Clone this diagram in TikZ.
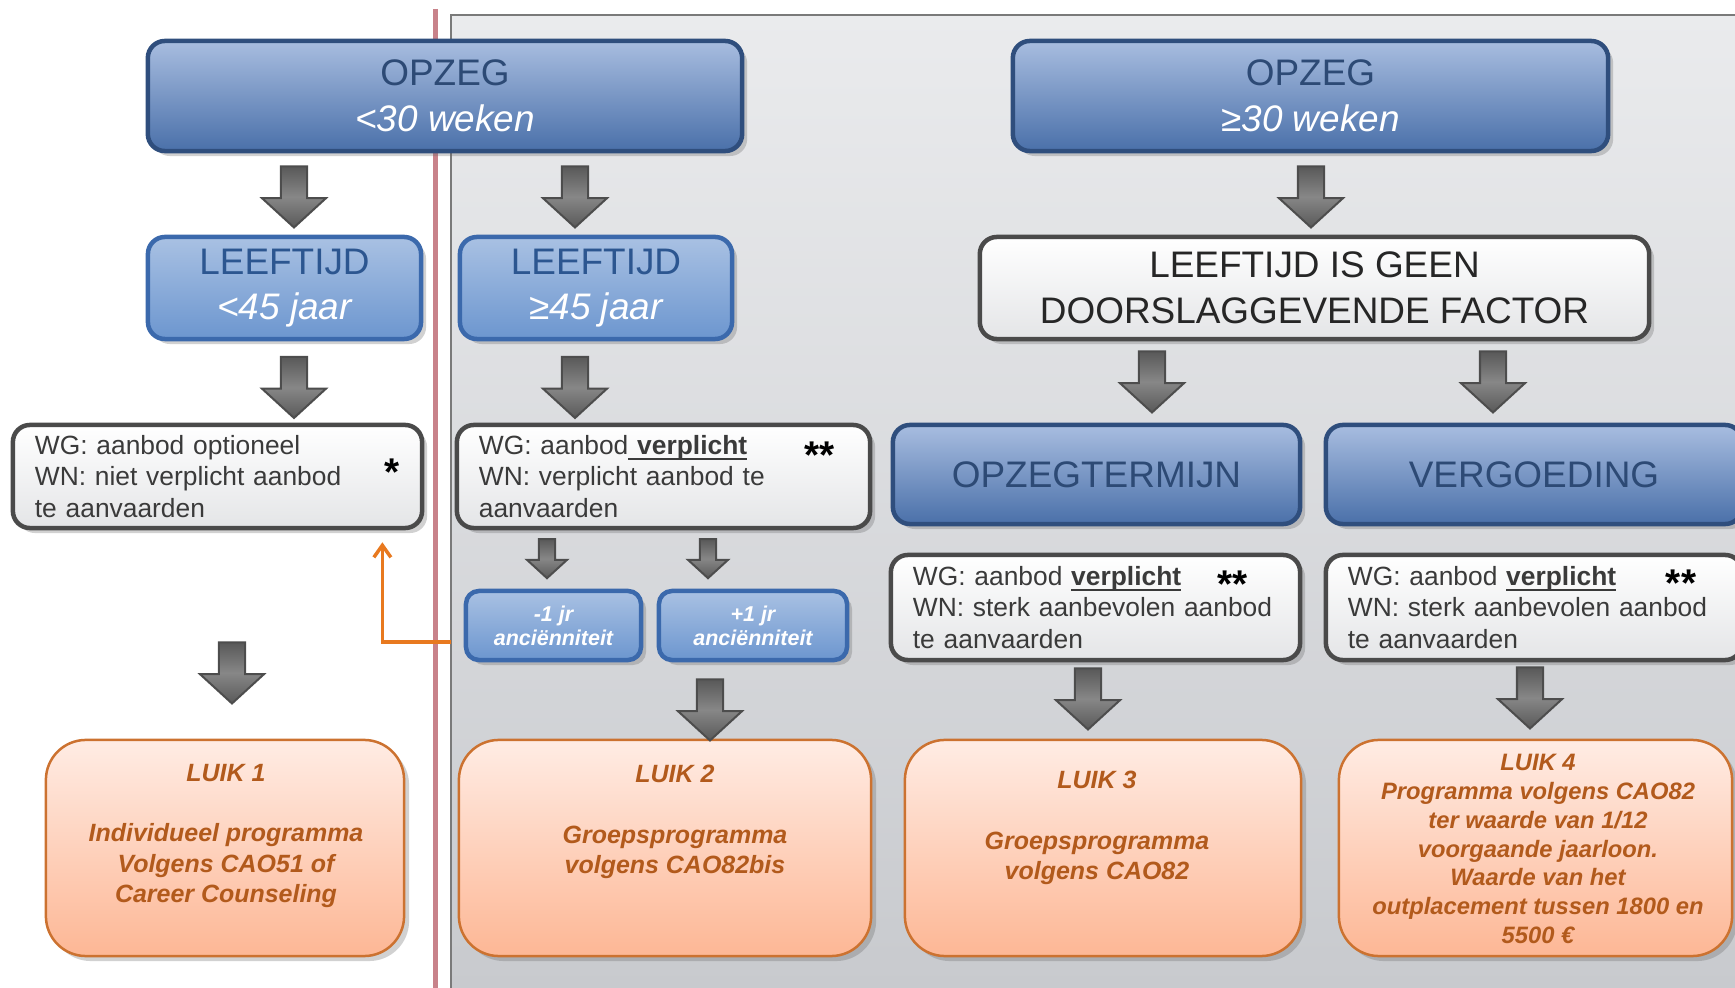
\documentclass[tikz,border=0pt]{standalone}
\usepackage{fontspec}
\setmainfont{Liberation Sans}
\usetikzlibrary{shapes.arrows}
\usetikzlibrary{shadows}
\usetikzlibrary{calc}
\usetikzlibrary{arrows.meta}
\definecolor{donkerboven}{HTML}{A8BDE0}
\definecolor{donkeronder}{HTML}{4A70A9}
\definecolor{donkerrand}{HTML}{2F4E7D}
\definecolor{donkertekst}{HTML}{2D4A75}
\definecolor{lichtboven}{HTML}{A9C1E3}
\definecolor{lichtonder}{HTML}{6C96CF}
\definecolor{lichtrand}{HTML}{3B69AC}
\definecolor{lichttekst}{HTML}{2C5690}
\definecolor{witonder}{HTML}{E4E5E7}
\definecolor{witrand}{HTML}{4A4A4A}
\definecolor{wittekst}{HTML}{3A3A3A}
\definecolor{luikboven}{HTML}{FFECE4}
\definecolor{luikonder}{HTML}{FDB795}
\definecolor{luikrand}{HTML}{CC7230}
\definecolor{luiktekst}{HTML}{B25A1C}
\definecolor{pijlrand}{HTML}{4D4D4D}
\definecolor{pijldonker}{HTML}{595959}
\definecolor{pijllicht}{HTML}{878787}
\definecolor{paneelboven}{HTML}{EAEBED}
\definecolor{paneelonder}{HTML}{C8CACE}
\definecolor{paneelrand}{HTML}{7A7A7A}
\definecolor{roze}{HTML}{C8828A}
\definecolor{oranje}{HTML}{E8791F}
\newcommand{\onderlijn}[1]{\setbox0=\hbox{#1}\rlap{\rule[-1.7pt]{\wd0}{0.6pt}}\box0}
\tikzset{schaduw/.style={drop shadow={shadow xshift=0.05cm,shadow yshift=-0.05cm,fill=black!60,opacity=0.3}},
 blokdonker/.style={draw=donkerrand,line width=0.045cm,rounded corners=0.17cm,
  top color=donkerboven,bottom color=donkeronder,schaduw,align=center,inner sep=0pt,
  font=\fontsize{10.5}{13}\selectfont,text=donkertekst},
 bloklicht/.style={draw=lichtrand,line width=0.045cm,rounded corners=0.17cm,
  top color=lichtboven,bottom color=lichtonder,schaduw,align=center,inner sep=0pt,
  font=\fontsize{10.5}{13}\selectfont,text=lichttekst},
 ancblok/.style={bloklicht,rounded corners=0.13cm,minimum height=0.69cm,
  font=\fontsize{6.1}{6.8}\selectfont\bfseries\itshape,text=white},
 witblok/.style={draw=witrand,line width=0.045cm,rounded corners=0.17cm,
  top color=white,middle color=white,bottom color=witonder,schaduw,align=left,
  inner xsep=0.22cm,inner ysep=0pt,font=\fontsize{7.5}{9}\selectfont,text=wittekst},
 luikblok/.style={draw=luikrand,line width=0.025cm,rounded corners=0.4cm,
  top color=luikboven,bottom color=luikonder,schaduw,minimum height=2.16cm},
 luiktxt/.style={align=center,text=luiktekst,font=\fontsize{7.1}{8.6}\selectfont\bfseries\itshape},
 ster/.style={font=\fontsize{11}{11}\selectfont\bfseries,inner sep=0pt},
 pijl/.style={single arrow,draw=pijlrand,line width=0.02cm,top color=pijldonker,
  bottom color=pijldonker,middle color=pijllicht,rotate=-90,inner xsep=0pt,
  inner ysep=0.12cm,minimum height=0.61cm,minimum width=0.62cm,
  single arrow head extend=0.19cm,single arrow tip angle=95},
 pijlklein/.style={pijl,inner ysep=0.07cm,minimum height=0.39cm,minimum width=0.38cm,
  single arrow head extend=0.12cm},
 oranjepijl/.style={draw=oranje,line width=0.035cm,-{Straight Barb[length=0.12cm,width=0.17cm]}},
}
\begin{document}
\begin{tikzpicture}[x=0.01cm,y=-0.01cm]
\useasboundingbox (0,0) rectangle (1735,988);
% achtergrond
\fill[top color=paneelboven,bottom color=paneelonder] (451,15) rectangle (1740,990);
\draw[paneelrand,line width=0.02cm] (451,990) -- (451,15) -- (1740,15);
\draw[roze,line width=0.05cm] (435,9) -- (435,990);

% opzeg
\node[blokdonker,minimum width=5.94cm,minimum height=1.10cm] (opzegkort) at (445,96)
 {OPZEG\\\textcolor{white}{\itshape <30 weken}};
\node[blokdonker,minimum width=5.95cm,minimum height=1.10cm] (opzeglang) at (1310.5,96)
 {OPZEG\\\textcolor{white}{\itshape ≥30 weken}};

% leeftijd
\node[bloklicht,minimum width=2.73cm,minimum height=1.02cm] (leefjong) at (284.5,288)
 {LEEFTIJD\\\textcolor{white}{\itshape <45 jaar}};
\node[bloklicht,minimum width=2.72cm,minimum height=1.02cm] (leefoud) at (596,288)
 {LEEFTIJD\\\textcolor{white}{\itshape ≥45 jaar}};
\node[witblok,align=center,inner xsep=0pt,minimum width=6.69cm,minimum height=1.02cm,
 font=\fontsize{10.5}{13}\selectfont,text=black!85] (geenfactor) at (1314.5,288)
 {LEEFTIJD IS GEEN\\DOORSLAGGEVENDE FACTOR};

% aanbod
\node[witblok,text width=3.65cm,minimum height=1.03cm] (wgjong) at (217.5,476.5)
 {WG: aanbod optioneel\\WN: niet verplicht aanbod\\te aanvaarden};
\node[witblok,text width=3.69cm,minimum height=1.03cm] (wgoud) at (663.5,476.5)
 {WG: aanbod\onderlijn{ \textbf{verplicht}}\\WN: verplicht aanbod te\\aanvaarden};
\node[blokdonker,minimum width=4.07cm,minimum height=0.99cm] (termijn) at (1096.5,474.5) {OPZEGTERMIJN};
\node[blokdonker,minimum width=4.16cm,minimum height=0.99cm] (vergoeding) at (1534,474.5) {VERGOEDING};
\node[witblok,text width=3.65cm,minimum height=1.05cm] (wgtermijn) at (1095.5,607.5)
 {WG: aanbod \onderlijn{\textbf{verplicht}}\\WN: sterk aanbevolen aanbod\\te aanvaarden};
\node[witblok,text width=3.72cm,minimum height=1.05cm] (wgvergoeding) at (1534,607.5)
 {WG: aanbod \onderlijn{\textbf{verplicht}}\\WN: sterk aanbevolen aanbod\\te aanvaarden};
\node[ster] (sterjong) at (392,472) {*};
\node[ster] (steroud) at (820,455) {**};
\node[ster] (stertermijn) at (1233,584) {**};
\node[ster] (stervergoeding) at (1681,583) {**};

% ancienniteit
\node[ancblok,minimum width=1.75cm] (ancmin) at (553.5,625.5) {-1 jr\\anciënniteit};
\node[ancblok,minimum width=1.88cm] (ancplus) at (753,625.5) {+1 jr\\anciënniteit};

% luiken
\node[luikblok,minimum width=3.58cm] (luik1) at (225,848) {};
\node[luikblok,minimum width=4.12cm] (luik2) at (665,848) {};
\node[luikblok,minimum width=3.96cm] (luik3) at (1103,848) {};
\node[luikblok,minimum width=3.93cm] (luik4) at (1535.5,848) {};
\node[luiktxt] (luik1tekst) at (226,836)
 {LUIK 1\\[8.6pt]Individueel programma\\Volgens CAO51 of\\Career Counseling};
\node[luiktxt] (luik2tekst) at (675,822)
 {LUIK 2\\[8.6pt]Groepsprogramma\\volgens CAO82bis};
\node[luiktxt] (luik3tekst) at (1097,828)
 {LUIK 3\\[8.6pt]Groepsprogramma\\volgens CAO82};
\node[luiktxt,font=\fontsize{6.75}{8.2}\selectfont\bfseries\itshape] (luik4tekst) at (1538,849)
 {LUIK 4\\Programma volgens CAO82\\ter waarde van 1/12\\voorgaande jaarloon.\\Waarde van het\\outplacement tussen 1800 en\\5500 €};

% pijlen
\node[pijl] (pijl1) at (294,191) {};
\node[pijl] (pijl2) at (575,191) {};
\node[pijl] (pijl3) at (1311,191) {};
\node[pijl] (pijl4) at (294,381.5) {};
\node[pijl] (pijl5) at (575,381.5) {};
\node[pijl] (pijl6) at (1152,376) {};
\node[pijl] (pijl7) at (1493,376) {};
\node[pijlklein] (pijl8) at (547,555) {};
\node[pijlklein] (pijl9) at (708,555) {};
\node[pijl] (pijl10) at (232,667) {};
\node[pijl] (pijl11) at (710,704) {};
\node[pijl] (pijl12) at (1088,693) {};
\node[pijl] (pijl13) at (1530,692) {};

% terugkoppeling
\coordinate (oranjestart) at (451,642);
\draw[oranjepijl] (oranjestart) -| ($(wgjong.south east)+(-42,12)$);
\end{tikzpicture}
\end{document}
